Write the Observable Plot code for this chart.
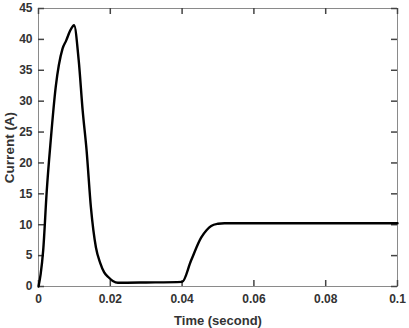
<!DOCTYPE html>
<html><head><meta charset="utf-8">
<script src="https://cdn.jsdelivr.net/npm/d3@7"></script>
<script src="https://cdn.jsdelivr.net/npm/@observablehq/plot@0.6"></script>
<style>body{margin:0;background:#fff}</style>
</head><body><div id="chart"></div>
<script>
const time = [0, 0.0006, 0.0013, 0.0023, 0.0034, 0.0048, 0.0067, 0.0077, 0.0088, 0.0095, 0.0099, 0.0112, 0.0123, 0.0134, 0.0146, 0.016, 0.0172, 0.0183, 0.0195, 0.0207, 0.0221, 0.03, 0.04, 0.0425, 0.0453, 0.0468, 0.0481, 0.05, 0.0518, 0.06, 0.07, 0.08, 0.09, 0.1];
const current = [0, 2, 5.8, 15.5, 23.6, 32.3, 38.5, 39.8, 41.4, 42.1, 42.3, 36.6, 28.5, 22, 12.8, 6.3, 3.8, 2.3, 1.5, 0.9, 0.6, 0.65, 0.75, 4.2, 7.9, 9.1, 9.8, 10.15, 10.25, 10.25, 10.25, 10.25, 10.25, 10.25];
const xTicks = [0, 0.02, 0.04, 0.06, 0.08, 0.1];
const yTicks = [0, 5, 10, 15, 20, 25, 30, 35, 40, 45];
const xDomain = [0, 0.1];
const yDomain = [0, 45];
const data = time.map((t, i) => ({t, c: current[i]}));
const blank = () => "";

const W = 409, H = 328, mL = 38, mR = 12, mT = 8, mB = 42, TL = 6;
const fw = W - mL - mR, fh = H - mT - mB;
const tx = TL / fw * (xDomain[1] - xDomain[0]);
const ty = TL / fh * (yDomain[1] - yDomain[0]);
const tickStroke = {stroke: "#444", strokeWidth: 1.5};

const chart = Plot.plot({
  width: W, height: H,
  marginLeft: mL, marginRight: mR, marginTop: mT, marginBottom: mB,
  style: {fontFamily: "Liberation Sans, Arial, sans-serif", fontSize: "12px", fontWeight: "bold", color: "#333", background: "#fff"},
  x: {domain: xDomain},
  y: {domain: yDomain},
  marks: [
    Plot.frame({stroke: "#8a8a8a", strokeWidth: 1}),
    Plot.axisX(xTicks, {anchor: "bottom", tickSize: 0, tickPadding: 8, tickFormat: d => d === 0 ? "0" : d === 0.1 ? "0.1" : d3.format(".2f")(d), label: null, fill: "#333"}),
    Plot.axisY(yTicks, {anchor: "left", tickSize: 0, tickPadding: 6, label: null, fill: "#333"}),
    Plot.axisX(xTicks, {anchor: "bottom", tickSize: 0, tickFormat: blank, fontSize: 13, label: "Time (second)", labelAnchor: "center", labelArrow: "none", labelOffset: 38, fill: "#333"}),
    Plot.axisY(yTicks, {anchor: "left", tickSize: 0, tickFormat: blank, fontSize: 13.5, label: "Current (A)", labelAnchor: "center", labelArrow: "none", labelOffset: 34, fill: "#333"}),
    Plot.ruleX(xTicks, {x: d => d, y1: yDomain[0], y2: yDomain[0] + ty, ...tickStroke}),
    Plot.ruleX(xTicks, {x: d => d, y1: yDomain[1] - ty, y2: yDomain[1], ...tickStroke}),
    Plot.ruleY(yTicks, {y: d => d, x1: xDomain[0], x2: xDomain[0] + tx, ...tickStroke}),
    Plot.ruleY(yTicks, {y: d => d, x1: xDomain[1] - tx, x2: xDomain[1], ...tickStroke}),
    Plot.line(data, {x: "t", y: "c", stroke: "#000", strokeWidth: 2.4, curve: "monotone-x"})
  ]
});
document.getElementById("chart").append(chart);
</script></body></html>
